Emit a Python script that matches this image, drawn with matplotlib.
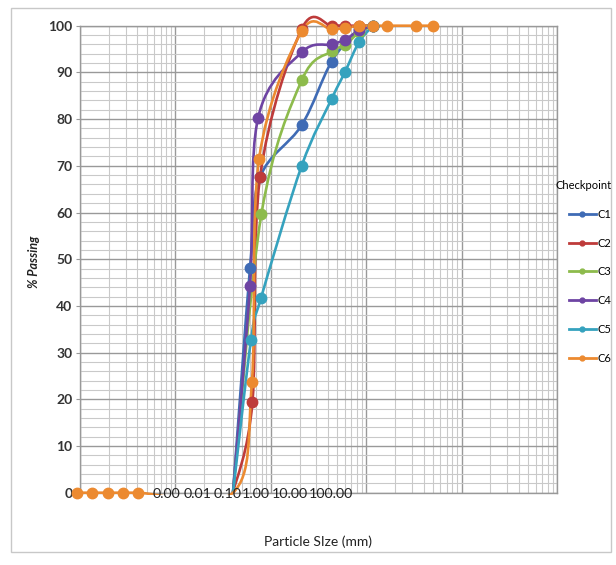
import numpy as np
import matplotlib
matplotlib.use('Agg')
import matplotlib.pyplot as plt
from matplotlib.path import Path
from matplotlib.patches import PathPatch, Rectangle
from matplotlib.lines import Line2D
from matplotlib.ticker import (FixedLocator, NullLocator, FormatStrFormatter,
                               MultipleLocator, LogLocator)

plt.rcParams['font.family'] = ['Lato', 'DejaVu Sans']

# ---------------- data ----------------
names = ['C1', 'C2', 'C3', 'C4', 'C5', 'C6']
colors = ['#3F6BB5', '#BE3B3A', '#8DBB4C', '#6E44A3', '#35A2BE', '#EC8A30']

c1_x = [0.134, 0.454, 0.93, 18.5, 158, 1130, 3080]
c1_y = [0, 48.1, 67.5, 78.7, 92.3, 99.3, 100]

c2_x = [0.134, 0.54, 0.93, 18.5, 158, 414, 1130]
c2_y = [0, 19.4, 67.5, 99.3, 100, 100, 100]

c3_x = [0.134, 1.03, 18.5, 158, 414, 1130, 3080]
c3_y = [0, 59.7, 88.3, 94.5, 95.8, 98.6, 100]

c4_x = [0.134, 0.454, 0.807, 18.5, 158, 414, 1130, 3080]
c4_y = [0, 44.2, 80.2, 94.3, 96.0, 97.0, 99.0, 100]

c5_x = [0.134, 0.488, 1.0, 18.5, 158, 414, 1130, 3080]
c5_y = [0, 32.7, 41.7, 70.0, 84.3, 90.1, 96.5, 100]

c6_x = [1.9e-6, 5.4e-6, 1.7e-5, 5.0e-5, 1.5e-4, 0.134, 0.52, 0.87, 18.5,
        158, 414, 1130, 3080, 8410, 67400, 228000]
c6_y = [0, 0, 0, 0, 0, 0, 23.7, 71.5, 98.8, 99.2, 99.5, 100, 100, 100, 100, 100]

series_x = [c1_x, c2_x, c3_x, c4_x, c5_x, c6_x]
series_y = [c1_y, c2_y, c3_y, c4_y, c5_y, c6_y]

x_ticks = [0.001, 0.01, 0.1, 1, 10, 100]
y_ticks = [0, 10, 20, 30, 40, 50, 60, 70, 80, 90, 100]

# horizontal nudges (pixels) of the crowded x tick labels, as in the reference
x_label_nudge = [2, 1, -1, -5, -3, 6]


def smooth_path(xs, ys):
    """Excel-like smoothed line (Catmull-Rom -> cubic Bezier) in log-x space."""
    P = np.column_stack([np.log10(xs), np.asarray(ys, float)])
    n = len(P)
    verts = [P[0]]
    codes = [Path.MOVETO]
    for i in range(n - 1):
        p0 = P[i - 1] if i > 0 else P[i]
        p1, p2 = P[i], P[i + 1]
        p3 = P[i + 2] if i + 2 < n else P[i + 1]
        verts += [p1 + (p2 - p0) / 6, p2 - (p3 - p1) / 6, p2]
        codes += [Path.CURVE4] * 3
    V = np.array(verts)
    V[:, 0] = 10 ** V[:, 0]
    return Path(V, codes)


# ---------------- figure ----------------
fig = plt.figure(figsize=(6.16, 5.65), dpi=100)
fig.patches.append(Rectangle((11 / 616, 13 / 565), 600 / 616, 544 / 565,
                             transform=fig.transFigure, fill=False,
                             edgecolor='#C8C8C8', lw=1.0))

pos = [80 / 616, (565 - 492.7) / 565, 477 / 616, 467 / 565]

# background log paper
gx = fig.add_axes(pos)
gx.set_xscale('log')
gx.set_xlim(1, 1e5)
gx.set_ylim(0, 100)
gx.xaxis.set_major_locator(LogLocator(base=10, numticks=10))
gx.xaxis.set_minor_locator(LogLocator(base=10, subs=np.arange(2, 10), numticks=100))
gx.yaxis.set_major_locator(MultipleLocator(10))
gx.yaxis.set_minor_locator(MultipleLocator(2))
gx.grid(which='major', color='#999999', lw=1.0)
gx.grid(which='minor', color='#C9C9C9', lw=0.8)
gx.tick_params(which='both', length=0, labelbottom=False, labelleft=False)
for s in gx.spines.values():
    s.set_color('#999999')
    s.set_linewidth(1.0)

# data axis (Excel axis)
ax = fig.add_axes(pos)
ax.patch.set_visible(False)
ax.set_xscale('log')
ax.set_xlim(10 ** -5.639, 10 ** 9.221)
ax.set_ylim(0, 100)
for s in ax.spines.values():
    s.set_visible(False)

ax.xaxis.set_major_locator(FixedLocator(x_ticks))
ax.xaxis.set_minor_locator(NullLocator())
ax.tick_params(axis='x', length=0, labelbottom=False)
ax.yaxis.set_major_locator(FixedLocator(y_ticks))
ax.yaxis.set_major_formatter(FormatStrFormatter('%d'))
ax.tick_params(axis='y', length=3, color='#999999', pad=2.5, labelsize=10,
               labelcolor='#333333')
for lab in ax.get_yticklabels():
    lab.set_fontweight('bold')

# crowded x tick labels sitting on the bottom line
for v, nudge in zip(x_ticks, x_label_nudge):
    ax.annotate('%.2f' % v, xy=(v, 0), xycoords=('data', 'axes fraction'),
                xytext=(nudge * 0.72, -1.0), textcoords='offset points',
                ha='center', va='center', fontsize=10.3, color='#222222',
                annotation_clip=False, zorder=5)

clip_rect = Rectangle((-0.1, -0.004), 1.2, 1.1, transform=ax.transAxes,
                      visible=False)
ax.add_patch(clip_rect)

for xs, ys, col, name in zip(series_x, series_y, colors, names):
    patch = PathPatch(smooth_path(xs, ys), facecolor='none', edgecolor=col,
                      lw=1.9, transform=ax.transData, zorder=3)
    ax.add_patch(patch)
    patch.set_clip_path(clip_rect)
    idx = [i for i, xv in enumerate(xs) if abs(xv - 0.134) > 1e-9]
    ax.plot(xs, ys, linestyle='none', marker='o', ms=7.5, mfc=col, mec=col,
            markevery=idx, clip_on=False, zorder=4)

handles = [Line2D([], [], color=c, lw=2, marker='o', ms=3.5) for c in colors]
leg = fig.legend(handles, names, title='Checkpoint', loc='upper left',
                 bbox_to_anchor=(545 / 616, (565 - 170) / 565), frameon=False,
                 fontsize=8, title_fontsize=8, handlelength=2.4,
                 handletextpad=0.15, labelspacing=1.6, alignment='right')

fig.text(34 / 616, 1 - 262 / 565, '% Passing', rotation=90, ha='center',
         va='center', fontsize=9, fontstyle='italic', fontweight='bold',
         color='#222222')
fig.text(318 / 616, 1 - 542 / 565, 'Particle SIze (mm)', ha='center',
         va='center', fontsize=10, color='#222222')

fig.savefig('out.png', dpi=100)
